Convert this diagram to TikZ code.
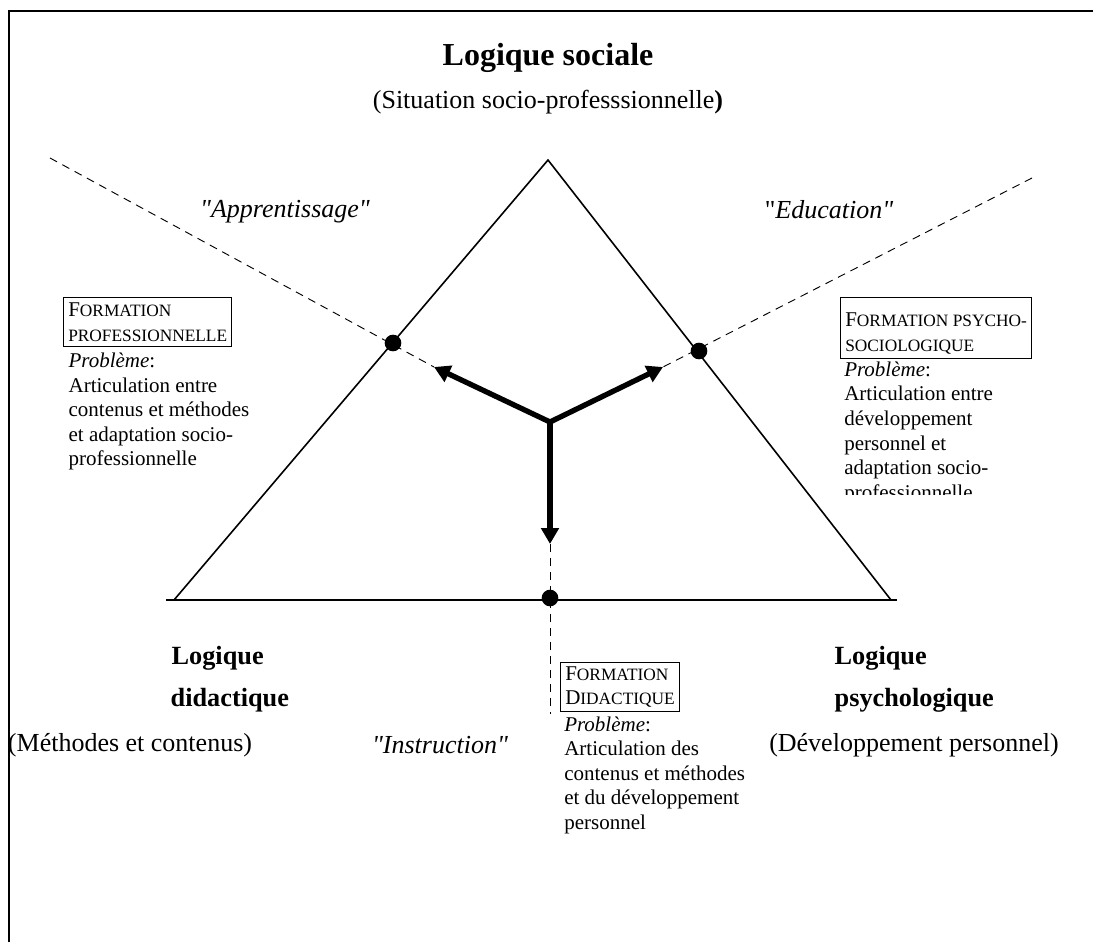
\documentclass[tikz,border=0pt]{standalone}
\usepackage{fontspec}
\setmainfont{Liberation Serif}[Ligatures=TeXOff]
\usetikzlibrary{arrows.meta}
\newcommand{\petit}[1]{{\fontsize{13}{14}\selectfont #1}}

\begin{document}
\begin{tikzpicture}[x=0.75pt,y=-0.75pt,
  corps/.style={inner sep=0pt,align=left,anchor=north west,font=\fontsize{15.75}{18.4}\selectfont},
  cadre/.style={draw,line width=0.9pt,inner xsep=3.5pt,inner ysep=3pt,align=left,anchor=north west,font=\fontsize{15.75}{18.4}\selectfont},
  soustitre/.style={font=\fontsize{19.5}{23}\selectfont},
  gras/.style={anchor=west,font=\fontsize{19.7}{23}\selectfont\bfseries},
  point/.style={circle,fill,inner sep=0pt,minimum size=12.5pt},
  pointille/.style={dash pattern=on 6pt off 4.5pt,line width=0.7pt},
  fleche/.style={line width=4pt,-{Triangle[length=12pt,width=13pt]}}]
\useasboundingbox (0,0) rectangle (1093,942);
\draw[line width=2.2pt] (9,942) -- (9,11) -- (1093,11);

\coordinate (sommet) at (548,160);
\coordinate (coinG) at (174,600);
\coordinate (coinD) at (891,600);
\coordinate (baseG) at (166,600);
\coordinate (baseD) at (897,600);
\coordinate (centre) at (550,422);
\coordinate (flecheG) at (434,367);
\coordinate (flecheD) at (663,367);
\coordinate (flecheB) at (550,544);
\coordinate (hautG) at (50,158);
\coordinate (hautD) at (1032,178);
\coordinate (basB) at (550,714);

\draw[pointille] (hautG) -- (flecheG);
\draw[pointille] (hautD) -- (flecheD);
\draw[pointille] (flecheB) -- (basB);

\draw[line width=1.2pt] (coinG) -- (sommet) -- (coinD);
\draw[line width=1.2pt] (baseG) -- (baseD);

\node[point] (pointG) at (393,343) {};
\node[point] (pointD) at (699,351) {};
\node[point] (pointB) at (550,598) {};

\draw[fleche] (centre) -- (flecheG);
\draw[fleche] (centre) -- (flecheD);
\draw[fleche] (centre) -- (flecheB);

\node[font=\fontsize{24}{28}\selectfont\bfseries] (logsoc) at (548,58) {Logique sociale};
\node[soustitre] (situation) at (548,102) {(Situation socio-professsionnelle\textbf{)}};
\node[soustitre,font=\fontsize{19.5}{23}\selectfont\itshape] (apprent) at (285,212) {"Apprentissage"};
\node[soustitre] (educ) at (829,210) {"\textit{Education"}};
\node[soustitre,font=\fontsize{19.5}{23}\selectfont\itshape] (instr) at (440,745) {"Instruction"};

\node[gras] (logdid) at (167,658) {Logique};
\node[gras] (did) at (166,700) {didactique};
\node[soustitre] (methodes) at (130,745) {(Méthodes et contenus)};
\node[gras] (logpsy) at (830,658) {Logique};
\node[gras] (psy) at (830,700) {psychologique};
\node[soustitre] (devperso) at (914,745) {(Développement personnel)};

\node[cadre,inner ysep=4pt] (profbox) at (63,297) {F\petit{ORMATION}\\\petit{PROFESSIONNELLE}};
\node[corps] (proftxt) at ([xshift=4pt,yshift=-4pt]profbox.south west)
  {\textit{Problème}:\\Articulation entre\\contenus et méthodes\\et adaptation socio-\\professionnelle};

\node[cadre] (psybox) at (840,297) {\rule{0pt}{19pt}F\petit{ORMATION PSYCHO-}\\\petit{SOCIOLOGIQUE}};
\begin{scope}
\clip (830,300) rectangle (1060,494);
\node[corps] (psytxt) at ([xshift=3pt,yshift=-2pt]psybox.south west)
  {\textit{Problème}:\\Articulation entre\\développement\\personnel et\\adaptation socio-\\professionnelle};
\end{scope}

\node[cadre] (didbox) at (560,662) {F\petit{ORMATION}\\D\petit{IDACTIQUE}};
\node[corps] (didtxt) at ([xshift=3pt,yshift=-3pt]didbox.south west)
  {\textit{Problème}:\\Articulation des\\contenus et méthodes\\et du développement\\personnel};
\end{tikzpicture}
\end{document}
